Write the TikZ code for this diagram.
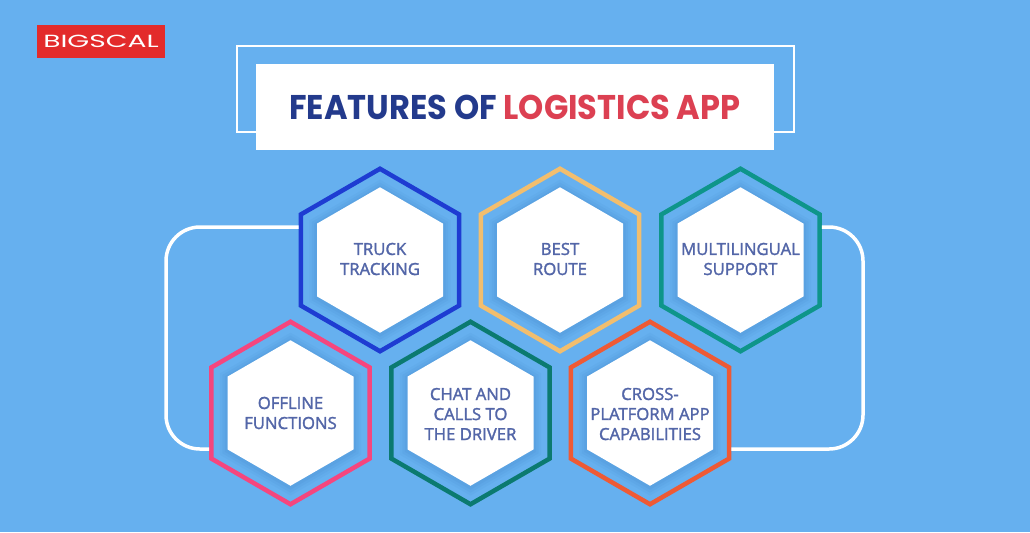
\documentclass[tikz,border=0pt]{standalone}
\usepackage{fontspec}
\setmainfont{Open Sans}
\newfontfamily\labelfont{Open Sans}[FakeBold=1.8]
\newfontfamily\titlefont{Poppins}[FakeStretch=0.935]
\newfontfamily\logofont{Poppins}[FakeStretch=1.6]
\usetikzlibrary{shapes.geometric}
\usetikzlibrary{shadows}
\definecolor{sky}{HTML}{66B0EF}
\definecolor{skydark}{HTML}{3F7FC4}
\definecolor{labelblue}{HTML}{5366A8}
\definecolor{titlenavy}{HTML}{233A8C}
\definecolor{titlered}{HTML}{DC4052}
\definecolor{logored}{HTML}{E32B2B}
\definecolor{truckblue}{HTML}{1E3CD2}
\definecolor{routegold}{HTML}{F2BE6E}
\definecolor{multiteal}{HTML}{0E958A}
\definecolor{offlinepink}{HTML}{F5467E}
\definecolor{chatgreen}{HTML}{0B7A70}
\definecolor{crossorange}{HTML}{EE5A35}
\setlength{\unitlength}{0.02cm}
\tikzstyle{hexring}=[draw, regular polygon, regular polygon sides=6, regular polygon rotate=30, minimum size=182.5\unitlength, inner sep=0pt, line width=4.5\unitlength]
\tikzstyle{hexface}=[regular polygon, regular polygon sides=6, regular polygon rotate=30, minimum size=145.5\unitlength, inner sep=0pt, fill=white,
  general shadow={shadow scale=1.12, shadow yshift=-1\unitlength, fill=skydark, opacity=0.08},
  general shadow={shadow scale=1.08, shadow yshift=-1\unitlength, fill=skydark, opacity=0.10},
  general shadow={shadow scale=1.04, shadow yshift=-1\unitlength, fill=skydark, opacity=0.12}]
\tikzstyle{hexlabel}=[text=labelblue, align=center, inner sep=0pt, font=\labelfont\fontsize{9.5}{11.4}\selectfont]
\tikzstyle{connector}=[draw=white, line width=3.5\unitlength, rounded corners=34\unitlength]

\begin{document}
\begin{tikzpicture}[x=0.02cm, y=-0.02cm]
      \useasboundingbox (0, 0) rectangle (1030, 532);
      \fill[sky] (0, 0) rectangle (1030, 532);
      % logo
      \node[fill=logored, text=white, minimum width=128\unitlength, minimum height=33\unitlength, inner sep=0pt, font=\logofont\fontsize{10}{12}\selectfont] (logo) at (101, 41.5) {BIGSCAL};
      % title
      \node[draw=white, line width=2\unitlength, minimum width=557\unitlength, minimum height=86\unitlength] (titleframe) at (515, 88.5) {};
      \node[fill=white, minimum width=518\unitlength, minimum height=86\unitlength, inner sep=0pt, font=\titlefont\bfseries\fontsize{19.5}{22}\selectfont] (title) at (515, 107) {\textcolor{titlenavy}{FEATURES OF} \textcolor{titlered}{LOGISTICS APP}};
      % white frame behind the two rows
      \coordinate (lefttop) at (166, 227);
      \coordinate (leftbottom) at (166, 449);
      \coordinate (righttop) at (863, 227);
      \coordinate (rightbottom) at (863, 449);
      % outer rings
      \node[hexring, draw=truckblue] (truck) at (380, 260) {};
      \node[hexring, draw=routegold] (route) at (560, 260) {};
      \node[hexring, draw=multiteal] (multi) at (740.5, 260) {};
      \node[hexring, draw=offlinepink] (offline) at (290.5, 413) {};
      \node[hexring, draw=chatgreen] (chat) at (470.5, 413) {};
      \node[hexring, draw=crossorange] (cross) at (650, 413) {};
      \draw[connector] (truck.west |- lefttop)
        -- (lefttop)
        -- (leftbottom)
        -- (offline.west |- leftbottom);
      \draw[connector] (multi.east |- righttop)
        -- (righttop)
        -- (rightbottom)
        -- (cross.east |- rightbottom);
      % white faces
      \node[hexface] (truckface) at (truck) {};
      \node[hexface] (routeface) at (route) {};
      \node[hexface] (multiface) at (multi) {};
      \node[hexface] (offlineface) at (offline) {};
      \node[hexface] (chatface) at (chat) {};
      \node[hexface] (crossface) at (cross) {};
      % labels
      \node[hexlabel] (trucktext) at (380, 259) {TRUCK\\TRACKING};
      \node[hexlabel] (routetext) at (560, 259) {BEST\\ROUTE};
      \node[hexlabel] (multitext) at (740.5, 259) {MULTILINGUAL\\SUPPORT};
      \node[hexlabel] (offlinetext) at (290.5, 413) {OFFLINE\\FUNCTIONS};
      \node[hexlabel] (chattext) at (470.5, 414) {CHAT AND\\CALLS TO\\THE DRIVER};
      \node[hexlabel] (crosstext) at (650, 414) {CROSS-\\PLATFORM APP\\CAPABILITIES};
    \end{tikzpicture}
\end{document}
